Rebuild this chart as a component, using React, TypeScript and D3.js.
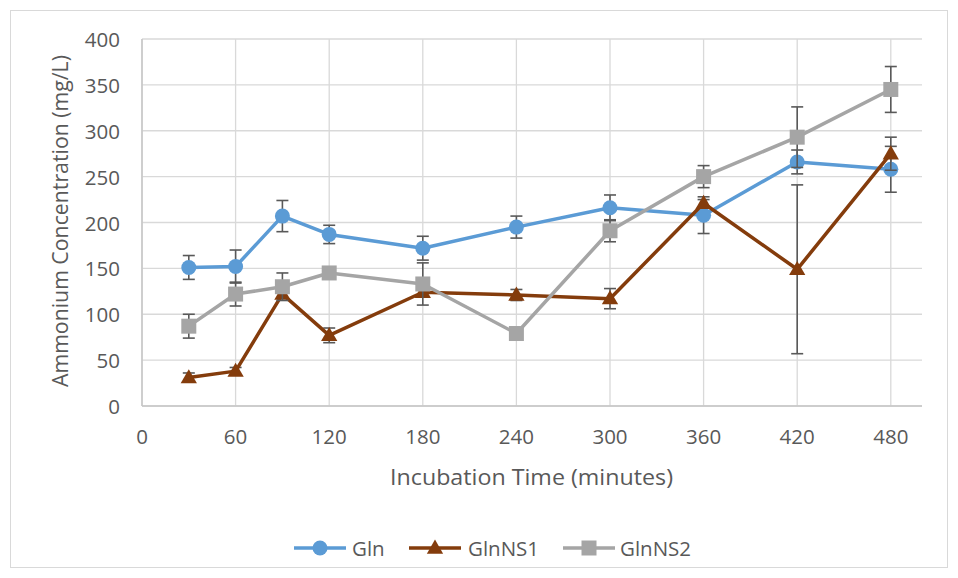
import React from "react";
import * as d3 from "d3";

// Sampling times (minutes)
const times = [30, 60, 90, 120, 180, 240, 300, 360, 420, 480];

// Ammonium concentration (mg/L) and standard deviations per treatment
const gln = [151, 152, 207, 187, 172, 195, 216, 208, 266, 258];
const glnErr = [13, 18, 17, 10, 13, 12, 14, 20, 13, 25];
const glnNS1 = [31, 38, 122, 77, 124, 121, 117, 221, 149, 275];
const glnNS1Err = [5, 4, 4, 8, 5, 6, 11, 4, 92, 18];
const glnNS2 = [87, 122, 130, 145, 133, 79, 191, 250, 293, 345];
const glnNS2Err = [13, 13, 15, 3, 23, 3, 12, 12, 33, 25];

const xTicks = [0, 60, 120, 180, 240, 300, 360, 420, 480];
const yTicks = [0, 50, 100, 150, 200, 250, 300, 350, 400];

const seriesNames = ["Gln", "GlnNS1", "GlnNS2"];
const seriesColors = ["#5B9BD5", "#843C0C", "#A5A5A5"];
const seriesShapes = ["circle", "triangle", "square"];

const W = 958;
const H = 578;
const M = { left: 142, right: 922, top: 39, bottom: 406 };
const FONT = "'Open Sans', 'Noto Sans', sans-serif";
const TEXT = "#595959";

const x = d3.scaleLinear().domain([0, 500]).range([M.left, M.right]);
const y = d3.scaleLinear().domain([0, 400]).range([M.bottom, M.top]);

function Marker({ shape, cx, cy, color }: { shape: string; cx: number; cy: number; color: string }) {
  if (shape === "circle") return <circle cx={cx} cy={cy} r={7.5} fill={color} />;
  if (shape === "square") return <rect x={cx - 7.5} y={cy - 7.5} width={15} height={15} fill={color} />;
  const sym = d3.symbol().type(d3.symbolTriangle).size(115)();
  return <path d={sym || ""} transform={`translate(${cx},${cy + 1})`} fill={color} />;
}

export default function App() {
  const values = [gln, glnNS1, glnNS2];
  const errors = [glnErr, glnNS1Err, glnNS2Err];
  const line = d3
    .line<number>()
    .x((_, i) => x(times[i]))
    .y((d) => y(d));

  const legendItems = [
    { lx: 294, tx: 352 },
    { lx: 409, tx: 468 },
    { lx: 563, tx: 620 },
  ];

  return (
    <svg
      width={W}
      height={H}
      style={{ position: "absolute", left: 0, top: 0, background: "#fff" }}
      fontFamily={FONT}
    >
      <rect x={10.5} y={10.5} width={937} height={557} fill="#fff" stroke="#d9d9d9" strokeWidth={1} />

      {/* gridlines */}
      {yTicks.map((t) => (
        <line key={"gy" + t} x1={M.left} x2={M.right} y1={y(t)} y2={y(t)} stroke="#d9d9d9" strokeWidth={1.3} />
      ))}
      {xTicks.map((t) => (
        <line key={"gx" + t} x1={x(t)} x2={x(t)} y1={M.top} y2={M.bottom} stroke="#d9d9d9" strokeWidth={1.3} />
      ))}
      <line x1={M.left} x2={M.left} y1={M.top} y2={M.bottom} stroke="#c6c6c6" strokeWidth={1.5} />
      <line x1={M.left} x2={M.right} y1={M.bottom} y2={M.bottom} stroke="#c6c6c6" strokeWidth={1.5} />

      {/* tick labels */}
      {yTicks.map((t) => (
        <text key={"ty" + t} x={120} y={y(t) + 8} textAnchor="end" fontSize={20.5} fill={TEXT}>
          {t}
        </text>
      ))}
      {xTicks.map((t) => (
        <text key={"tx" + t} x={x(t)} y={444} textAnchor="middle" fontSize={20.5} fill={TEXT}>
          {t}
        </text>
      ))}

      {/* axis titles */}
      <text x={531.5} y={485} textAnchor="middle" fontSize={21} fill={TEXT} textLength={283} lengthAdjust="spacingAndGlyphs">
        Incubation Time (minutes)
      </text>
      <text
        transform={`translate(68,221) rotate(-90)`}
        textAnchor="middle"
        fontSize={21}
        fill={TEXT}
        textLength={332}
        lengthAdjust="spacingAndGlyphs"
      >
        Ammonium Concentration (mg/L)
      </text>

      {/* series */}
      {values.map((vals, s) => (
        <g key={"s" + s}>
          {vals.map((v, i) => {
            const e = errors[s][i];
            const cx = x(times[i]);
            return (
              <g key={"e" + i} stroke="#595959" strokeWidth={1.6}>
                <line x1={cx} x2={cx} y1={y(v - e)} y2={y(v + e)} />
                <line x1={cx - 6} x2={cx + 6} y1={y(v - e)} y2={y(v - e)} />
                <line x1={cx - 6} x2={cx + 6} y1={y(v + e)} y2={y(v + e)} />
              </g>
            );
          })}
          <path d={line(vals) || ""} fill="none" stroke={seriesColors[s]} strokeWidth={3.5} strokeLinejoin="round" />
          {vals.map((v, i) => (
            <Marker key={"m" + i} shape={seriesShapes[s]} cx={x(times[i])} cy={y(v)} color={seriesColors[s]} />
          ))}
        </g>
      ))}

      {/* legend */}
      {seriesNames.map((name, s) => (
        <g key={"lg" + s}>
          <line
            x1={legendItems[s].lx}
            x2={legendItems[s].lx + 52}
            y1={548}
            y2={548}
            stroke={seriesColors[s]}
            strokeWidth={3.5}
          />
          <Marker shape={seriesShapes[s]} cx={legendItems[s].lx + 26} cy={548} color={seriesColors[s]} />
          <text x={legendItems[s].tx} y={555.5} fontSize={20.5} fill={TEXT}>
            {name}
          </text>
        </g>
      ))}
    </svg>
  );
}
